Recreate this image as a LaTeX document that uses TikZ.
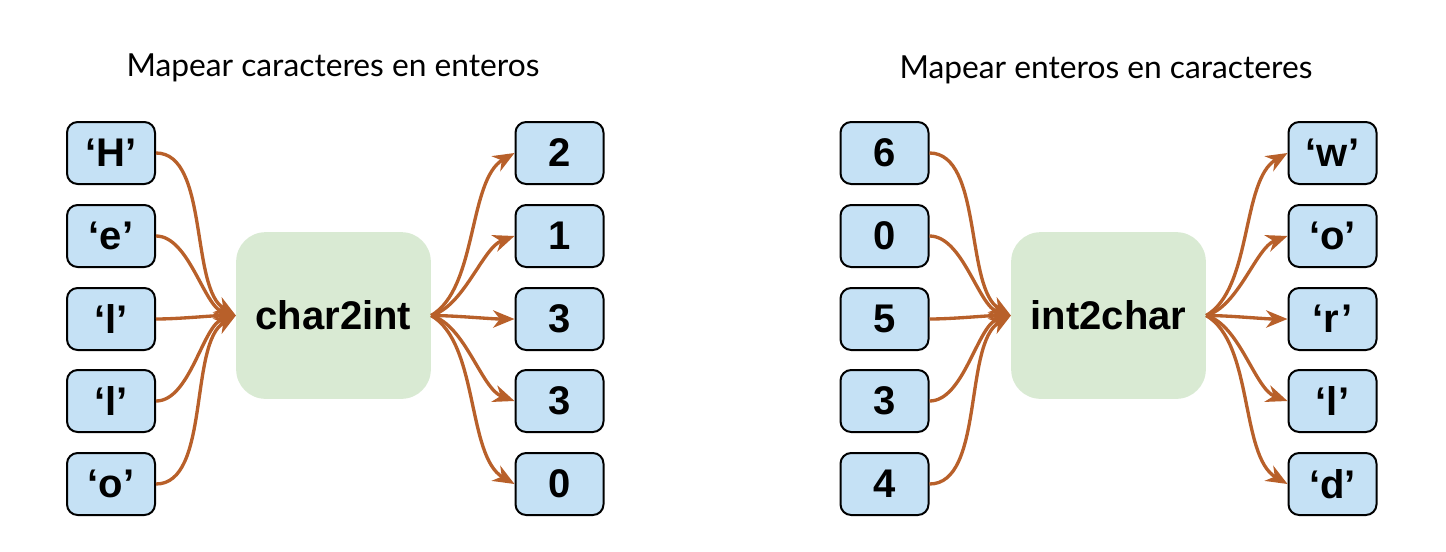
\documentclass[tikz,border=0pt]{standalone}
\usepackage{fontspec}
\setmainfont{Liberation Sans}
\newfontfamily\titlefont{Lato}
\usetikzlibrary{arrows.meta}
\definecolor{boxblue}{HTML}{C5E1F5}
\definecolor{boxgreen}{HTML}{D9EAD3}
\definecolor{arrowc}{HTML}{B8602A}
\begin{document}
\begin{tikzpicture}[x=0.75pt,y=-0.75pt,
  valbox/.style={draw=black,line width=1.5pt,fill=boxblue,rounded corners=8pt,
    minimum width=66pt,minimum height=46.5pt,inner sep=0pt,
    font=\fontsize{30pt}{30pt}\selectfont\bfseries},
  fnbox/.style={fill=boxgreen,rounded corners=22pt,minimum width=146pt,minimum height=125pt,
    inner sep=0pt,font=\fontsize{30pt}{30pt}\selectfont\bfseries},
  ttl/.style={font=\titlefont\fontsize{23.8pt}{24pt}\selectfont},
  link/.style={draw=arrowc,line width=2.5pt,looseness=0.75,-{Stealth[length=16pt,width=13pt,inset=5pt]}}]
\useasboundingbox (0,0) rectangle (1446,551);
% titles
\node[ttl] (t1) at (333,68) {Mapear caracteres en enteros};
\node[ttl] (t2) at (1106,70) {Mapear enteros en caracteres};
% left half
\node[fnbox] (f1) at (333.5,315.5) {char2int};
\foreach \n/\y/\t in {1/153/‘H’,2/236/‘e’,3/319/‘l’,4/401/‘l’,5/484/‘o’}
  \node[valbox] (a\n) at (111,\y) {\t};
\foreach \n/\y/\t in {1/153/2,2/236/1,3/319/3,4/401/3,5/484/0}
  \node[valbox] (b\n) at (559.5,\y) {\t};
% right half
\node[fnbox] (f2) at (1108.5,315.5) {int2char};
\foreach \n/\y/\t in {1/153/6,2/236/0,3/319/5,4/401/3,5/484/4}
  \node[valbox] (c\n) at (884.5,\y) {\t};
\foreach \n/\y/\t in {1/153/‘w’,2/236/‘o’,3/319/‘r’,4/401/‘l’,5/484/‘d’}
  \node[valbox] (d\n) at (1332.5,\y) {\t};
% connectors
\foreach \n/\a/\b/\c in {1/150/30/210,2/165/15/200,3/180/0/180,4/195/-15/160,5/210/-30/150}{
  \draw[link] (a\n.east) to[out=0,in=\a] (f1.west);
  \draw[link] (f1.east) to[out=\b,in=\c] (b\n.west);
  \draw[link] (c\n.east) to[out=0,in=\a] (f2.west);
  \draw[link] (f2.east) to[out=\b,in=\c] (d\n.west);
}
\end{tikzpicture}
\end{document}
